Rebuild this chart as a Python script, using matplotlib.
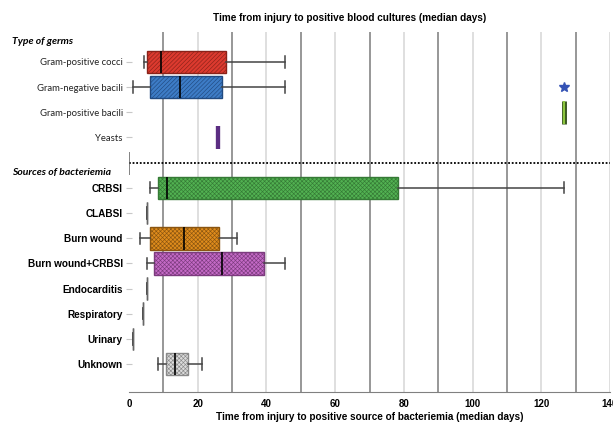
import matplotlib
matplotlib.use("Agg")
import matplotlib.pyplot as plt
from matplotlib.ticker import FixedLocator
from matplotlib.transforms import blended_transform_factory

plt.rcParams['font.family'] = ['Liberation Sans', 'DejaVu Sans']
plt.rcParams['hatch.linewidth'] = 0.45

# groups (top to bottom)
germs = ["Gram-positive cocci", "Gram-negative bacili", "Gram-positive bacili", "Yeasts"]
sources = ["CRBSI", "CLABSI", "Burn wound", "Burn wound+CRBSI", "Endocarditis",
           "Respiratory", "Urinary", "Unknown"]
labels = germs + sources

# box statistics (days)
whislo = [4.4, 1.3, 126.5, 26.0, 6.1, 5.2, 3.1, 5.2, 5.2, 4.2, 1.3, 8.3]
q1     = [5.2, 6.1, 126.5, 26.0, 8.3, 5.2, 6.2, 7.2, 5.2, 4.2, 1.3, 10.7]
med    = [9.2, 14.8, 126.5, 26.0, 11.2, 5.2, 16.1, 27.2, 5.2, 4.2, 1.3, 13.3]
q3     = [28.3, 27.2, 126.5, 26.0, 78.4, 5.2, 26.2, 39.3, 5.2, 4.2, 1.3, 17.2]
whishi = [45.3, 45.3, 126.5, 26.0, 126.5, 5.2, 31.3, 45.3, 5.2, 4.2, 1.3, 21.2]
fliers = [[], [126.5], [], [], [], [], [], [], [], [], [], []]

face = ["#dc3a2f", "#3d7cc6", "#8cc63f", "#5b2d82", "#52b252", "#666666",
        "#e08c1c", "#c46ac6", "#666666", "#666666", "#666666", "#dcdcdc"]
edge = ["#8a2219", "#214a80", "#33511a", "#4b2474", "#357a35", "#555555",
        "#8a5510", "#7c3b7e", "#555555", "#555555", "#555555", "#8a8a8a"]
hatch = ["////////", "////////", None, None, "xxxxxxxx", None, "xxxxxxxx",
         "xxxxxxxx", None, None, None, "xxxxxxxx"]

positions = [0, 1, 2, 3, 5, 6, 7, 8, 9, 10, 11, 12]
divider = 4.0

stats = []
for i in range(len(labels)):
    stats.append(dict(whislo=whislo[i], q1=q1[i], med=med[i], q3=q3[i],
                      whishi=whishi[i], fliers=fliers[i], label=labels[i]))

fig = plt.figure(figsize=(6.13, 4.25), dpi=100)
ax = fig.add_axes([129 / 613, 1 - 392 / 425, 481 / 613, 360 / 425])

bp = ax.bxp(stats, positions=positions, widths=0.9, capwidths=0.45,
            orientation='horizontal', patch_artist=True, manage_ticks=False,
            flierprops=dict(marker='*', markerfacecolor='#3553b5',
                            markeredgecolor='#3553b5', markersize=7),
            medianprops=dict(color='black', lw=1.2),
            whiskerprops=dict(color='#444444', lw=1.1),
            capprops=dict(color='#444444', lw=1.1))

for i, box in enumerate(bp['boxes']):
    box.set_facecolor(face[i])
    box.set_edgecolor(edge[i])
    box.set_linewidth(1.0)
    if hatch[i]:
        box.set_hatch(hatch[i])
    if q1[i] == q3[i]:
        # single value: drawn as a short vertical stroke
        bp['medians'][i].set_color(face[i])
        bp['medians'][i].set_linewidth(1.0)

# yeasts: thick purple stroke; gram-positive bacilli: green stroke with dark rim
bp['boxes'][3].set_linewidth(3)
bp['medians'][3].set_linewidth(3)
bp['boxes'][2].set_linewidth(3.5)
bp['medians'][2].set_linewidth(1.6)

ax.set_xlim(0, 140)
ax.set_ylim(13.11, -1.19)

ax.xaxis.set_major_locator(FixedLocator([0, 20, 40, 60, 80, 100, 120, 140]))
ax.xaxis.set_minor_locator(FixedLocator([10, 30, 50, 70, 90, 110, 130]))
ax.grid(axis='x', which='major', color='#dcdcdc', lw=1.3)
ax.grid(axis='x', which='minor', color='#7a7a7a', lw=1.1)
ax.set_axisbelow(True)
ax.get_xgridlines()[0].set_visible(False)
ax.tick_params(axis='x', which='both', length=0, labelsize=7, pad=5)
for t in ax.get_xticklabels():
    t.set_fontweight('bold')

ax.set_yticks(positions)
ax.set_yticklabels(labels)
ax.tick_params(axis='y', length=5, direction='inout', color='#c8c8c8', pad=2)
for i, t in enumerate(ax.get_yticklabels()):
    if i < len(germs):
        t.set_fontfamily(['Lato', 'DejaVu Sans'])
        t.set_fontsize(6.8)
        t.set_color('#222222')
    else:
        t.set_fontsize(7.2)
        t.set_fontweight('bold')

for s in ['top', 'right', 'left']:
    ax.spines[s].set_visible(False)
ax.spines['bottom'].set_color('#808080')

ax.axhline(divider, color='black', lw=1.3, ls=(0, (1, 1)), clip_on=False)
ax.vlines(0, divider - 0.42, divider + 0.48, color='#606060', lw=1.1)

tr = blended_transform_factory(fig.transFigure, ax.transData)
ax.text(12 / 613, -0.83, "Type of germs", transform=tr, fontsize=7.5,
        fontweight='bold', fontstyle='italic', family=['Lato', 'DejaVu Sans'],
        va='center', ha='left')
ax.text(12 / 613, divider + 0.41, "Sources of bacteriemia", transform=tr,
        fontsize=7.5, fontweight='bold', fontstyle='italic',
        family=['Lato', 'DejaVu Sans'], va='center', ha='left')

fig.text(350 / 613, 1 - 18 / 425, "Time from injury to positive blood cultures (median days)",
         ha='center', va='center', fontsize=7.2, fontweight='bold')
ax.set_xlabel("Time from injury to positive source of bacteriemia (median days)",
              fontsize=7.2, fontweight='bold', labelpad=2)

fig.savefig("out.png", dpi=100)
